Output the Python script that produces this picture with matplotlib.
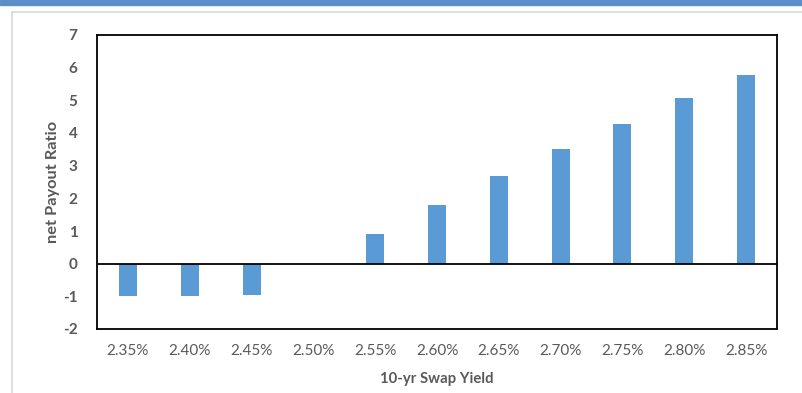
import matplotlib
matplotlib.use("Agg")
import matplotlib.pyplot as plt
from matplotlib.patches import Rectangle
from matplotlib.lines import Line2D

categories = ["2.35%", "2.40%", "2.45%", "2.50%", "2.55%", "2.60%",
              "2.65%", "2.70%", "2.75%", "2.80%", "2.85%"]
payout_ratio = [-1.0, -1.0, -0.95, 0.0, 0.90, 1.79, 2.68, 3.50, 4.29, 5.06, 5.79]
y_ticks = [-2, -1, 0, 1, 2, 3, 4, 5, 6, 7]

plt.rcParams["font.family"] = ["Lato", "DejaVu Sans"]
text_gray = "#595959"
bar_blue = "#5B9BD5"

fig = plt.figure(figsize=(8.03, 3.93), dpi=100)

# frame decoration: blue band at the top and a light outline around the chart
fig.add_artist(Rectangle((0, 1 - 5 / 393), 1, 5 / 393, transform=fig.transFigure,
                         color="#5B8FC7", zorder=0))
fig.add_artist(Line2D([12 / 803, 12 / 803], [0, 1 - 12 / 393], transform=fig.transFigure,
                      color="#D9D9D9", lw=1.2))
fig.add_artist(Line2D([12 / 803, 1], [1 - 12 / 393, 1 - 12 / 393], transform=fig.transFigure,
                      color="#D9D9D9", lw=1.2))

ax = fig.add_axes([97 / 803, 1 - 329 / 393, (777 - 97) / 803, (329 - 35) / 393])
x = list(range(len(categories)))
ax.bar(x, payout_ratio, width=0.29, color=bar_blue, zorder=2)
ax.axhline(0, color="black", lw=1.3, zorder=3)

ax.set_xlim(-0.5, len(categories) - 0.5)
ax.set_ylim(-2, 7)
ax.set_yticks(y_ticks)
ax.set_yticklabels([str(t) for t in y_ticks], fontsize=11, fontweight="bold", color=text_gray)
ax.set_xticks(x)
ax.set_xticklabels(categories, fontsize=11, color=text_gray)
ax.tick_params(axis="both", length=0)
ax.tick_params(axis="x", pad=11)
ax.tick_params(axis="y", pad=14)

for s in ax.spines.values():
    s.set_color("black")
    s.set_linewidth(1.3)

ax.set_xlabel("10-yr Swap Yield", fontsize=10.7, fontweight="bold", color=text_gray, labelpad=10)
ax.set_ylabel("net Payout Ratio", fontsize=11.8, fontweight="bold", color=text_gray, labelpad=2)

fig.savefig("out.png", dpi=100)
